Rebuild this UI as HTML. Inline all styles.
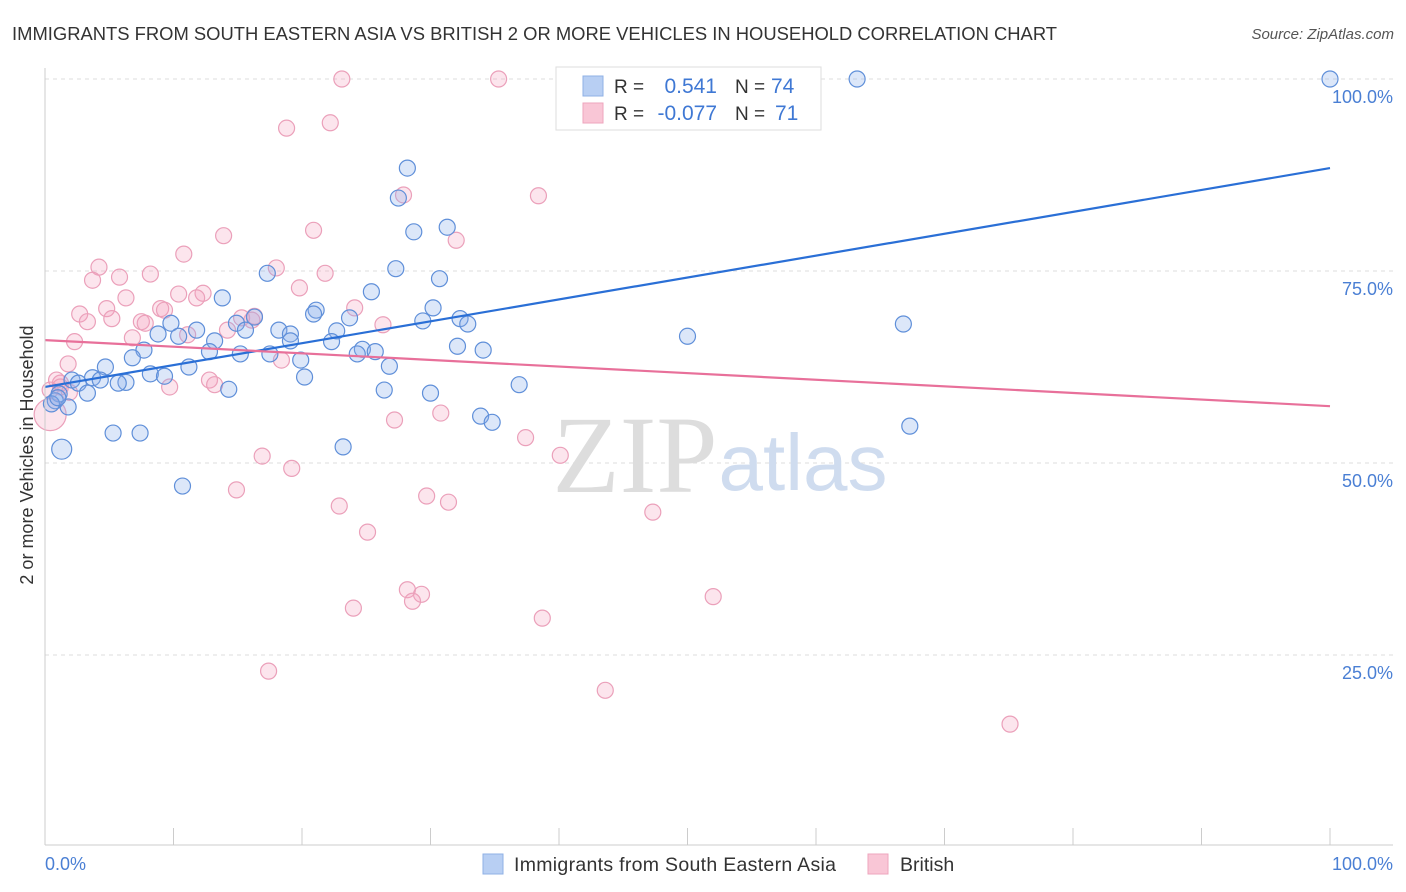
<!DOCTYPE html>
<html><head><meta charset="utf-8"><style>
body{margin:0;background:#fff;font-family:"Liberation Sans",sans-serif;}
#wrap{position:relative;width:1406px;height:892px;overflow:hidden;}
</style></head><body>
<div id="wrap">
<svg id="svg" width="1406" height="892" xmlns="http://www.w3.org/2000/svg">
<text x="12" y="40" font-size="18.4" fill="#333" textLength="1045">IMMIGRANTS FROM SOUTH EASTERN ASIA VS BRITISH 2 OR MORE VEHICLES IN HOUSEHOLD CORRELATION CHART</text>
<text x="1394" y="39" font-size="15" fill="#555" font-style="italic" text-anchor="end">Source: ZipAtlas.com</text>
<g id="grid"></g>
<text x="635" y="492" font-size="110" fill="#ddd" font-family="Liberation Serif,serif" text-anchor="middle">ZIP</text>
<text x="803" y="490" font-size="80" fill="#cfdcef" text-anchor="middle">atlas</text>
<g id="pts"></g>
<g id="axes"></g>
<text transform="translate(33,455) rotate(-90)" font-size="18" fill="#333" text-anchor="middle">2 or more Vehicles in Household</text>
<text x="45" y="870" font-size="18" fill="#4a7fd4">0.0%</text>
<text x="1393" y="870" font-size="18" fill="#4a7fd4" text-anchor="end">100.0%</text>
<g>
<rect x="556" y="67" width="265" height="63" fill="#fff" stroke="#ddd"/>
<rect x="583" y="76" width="20" height="20" fill="#b8cff3" stroke="#8fb0e6"/>
<rect x="583" y="103" width="20" height="20" fill="#f9c6d6" stroke="#eea5bd"/>
<text x="614" y="93" font-size="19" fill="#333">R =</text><text x="717" y="93" font-size="21" fill="#3f78d4" text-anchor="end">0.541</text>
<text x="735" y="93" font-size="19" fill="#333">N =</text><text x="771" y="93" font-size="21" fill="#3f78d4">74</text>
<text x="614" y="120" font-size="19" fill="#333">R =</text><text x="717" y="120" font-size="21" fill="#3f78d4" text-anchor="end">-0.077</text>
<text x="735" y="120" font-size="19" fill="#333">N =</text><text x="775" y="120" font-size="21" fill="#3f78d4">71</text>
</g>
<g>
<rect x="483" y="854" width="20" height="20" fill="#b8cff3" stroke="#8fb0e6"/>
<text x="514" y="871" font-size="19.5" fill="#333" textLength="322">Immigrants from South Eastern Asia</text>
<rect x="868" y="854" width="20" height="20" fill="#f9c6d6" stroke="#eea5bd"/>
<text x="900" y="871" font-size="19.5" fill="#333">British</text>
</g>
</svg>
</div>
<script>
const blueX=[63.2,100,28.2,27.5,31.3,28.7,17.3,27.3,30.7,25.4,13.8,21.1,30.2,29.4,32.3,32.9,23.7,20.9,9.8,14.9,16.3,18.2,19.1,22.7,15.6,11.8,10.4,8.8,13.2,22.3,32.1,34.1,24.7,25.7,24.3,7.7,12.8,15.2,17.5,19.9,26.8,6.8,4.7,11.2,8.2,9.3,20.2,3.7,2.1,4.3,6.3,5.7,2.6,36.9,14.3,26.4,30.0,1.1,3.3,0.8,1.8,0.5,33.9,34.8,67.3,5.3,7.4,23.2,1.3,10.7,50.0,66.8,19.1,1.0];
const blueY=[100,100,88.4,84.5,80.7,80.1,74.7,75.3,74.0,72.3,71.5,69.9,70.2,68.5,68.8,68.1,68.9,69.4,68.2,68.2,69.0,67.3,66.8,67.2,67.3,67.3,66.5,66.8,65.9,65.8,65.2,64.7,64.8,64.5,64.2,64.7,64.5,64.2,64.2,63.4,62.6,63.7,62.5,62.5,61.6,61.3,61.2,61.1,60.8,60.8,60.5,60.4,60.4,60.2,59.6,59.5,59.1,59.0,59.1,58.1,57.3,57.7,56.1,55.3,54.8,53.9,53.9,52.1,51.8,47.0,66.5,68.1,65.9,58.5];
const pinkX=[23.1,35.3,18.8,22.2,27.9,38.4,13.9,20.9,32.0,10.8,4.2,18.0,21.8,5.8,8.2,3.7,6.3,10.4,12.3,19.8,2.7,4.8,9.0,11.8,3.3,5.2,7.5,9.3,15.3,16.3,24.1,26.3,7.8,6.8,11.1,14.2,2.3,16.1,18.4,1.8,1.2,9.7,12.8,13.2,0.9,0.4,27.2,30.8,37.4,40.1,16.9,19.2,14.9,29.7,31.4,22.9,47.3,25.1,28.2,29.3,28.6,24.0,52.0,38.7,43.6,17.4,75.1,0.4,1.2,1.9];
const pinkY=[100,100,93.6,94.3,84.9,84.8,79.6,80.3,79.0,77.2,75.5,75.4,74.7,74.2,74.6,73.8,71.5,72.0,72.1,72.8,69.4,70.1,70.1,71.5,68.4,68.8,68.4,69.9,68.9,69.1,70.2,68.0,68.2,66.3,66.7,67.3,65.8,68.6,63.4,62.9,60.4,59.9,60.8,60.2,60.8,56.3,55.6,56.5,53.3,51.0,50.9,49.3,46.5,45.7,44.9,44.4,43.6,41.0,33.5,32.9,32.0,31.1,32.6,29.8,20.4,22.9,16.0,59.5,59.9,59.2];
const pinkBig=[45];
const blueTrend=[59.9,88.4];
const pinkTrend=[66.0,57.4];
const yTicks=[100,75,50,25];
const yTickLabels=["100.0%","75.0%","50.0%","25.0%"];
const xTickVals=[0,10,20,30,40,50,60,70,80,90,100];

const NS="http://www.w3.org/2000/svg";
const X0=45,X1=1330,Y0=847,Y100=79;
const sx=v=>X0+(X1-X0)*v/100;
const sy=v=>Y0-(Y0-Y100)*v/100;
function mk(t,a,p){const e=document.createElementNS(NS,t);for(const k in a)e.setAttribute(k,a[k]);p.appendChild(e);return e;}
const grid=document.getElementById('grid'),pts=document.getElementById('pts'),axes=document.getElementById('axes');
yTicks.forEach((v,i)=>{
  const l=mk('line',{x1:X0,x2:1393,y1:sy(v),y2:sy(v),stroke:'#ddd','stroke-dasharray':'4,4'},grid);
  
  
  const t=mk('text',{x:1393,y:sy(v)+24,'font-size':18,fill:'#4a7fd4','text-anchor':'end'},grid);
  t.textContent=yTickLabels[i];
  
  
});
const ax=mk('line',{x1:X0,x2:X0,y1:68,y2:845,stroke:'#ccc'},axes);


const bx=mk('line',{x1:X0,x2:1393,y1:845,y2:845,stroke:'#ccc'},axes);


xTickVals.forEach(v=>{
  const t=mk('line',{x1:sx(v),x2:sx(v),y1:828,y2:845,stroke:'#ccc'},axes);
  
  
});
pinkX.forEach((x,i)=>{
  const big=pinkBig.includes(i);
  const c=mk('circle',{cx:sx(x),cy:sy(pinkY[i]),r:big?16:8,fill:'rgba(245,160,190,0.28)',stroke:'#eba0ba','stroke-width':1.2},pts);
  
  
});
blueX.forEach((x,i)=>{
  const c=mk('circle',{cx:sx(x),cy:sy(blueY[i]),r:(i==68?10:8),fill:'rgba(140,175,235,0.3)',stroke:'#5f8fd9','stroke-width':1.2},pts);
  
  
});
const bl=mk('line',{x1:sx(0),y1:sy(blueTrend[0]),x2:sx(100),y2:sy(blueTrend[1]),stroke:'#2a6fd6','stroke-width':2.2},pts);


const pl=mk('line',{x1:sx(0),y1:sy(pinkTrend[0]),x2:sx(100),y2:sy(pinkTrend[1]),stroke:'#e8709a','stroke-width':2.2},pts);


</script>
</body></html>
